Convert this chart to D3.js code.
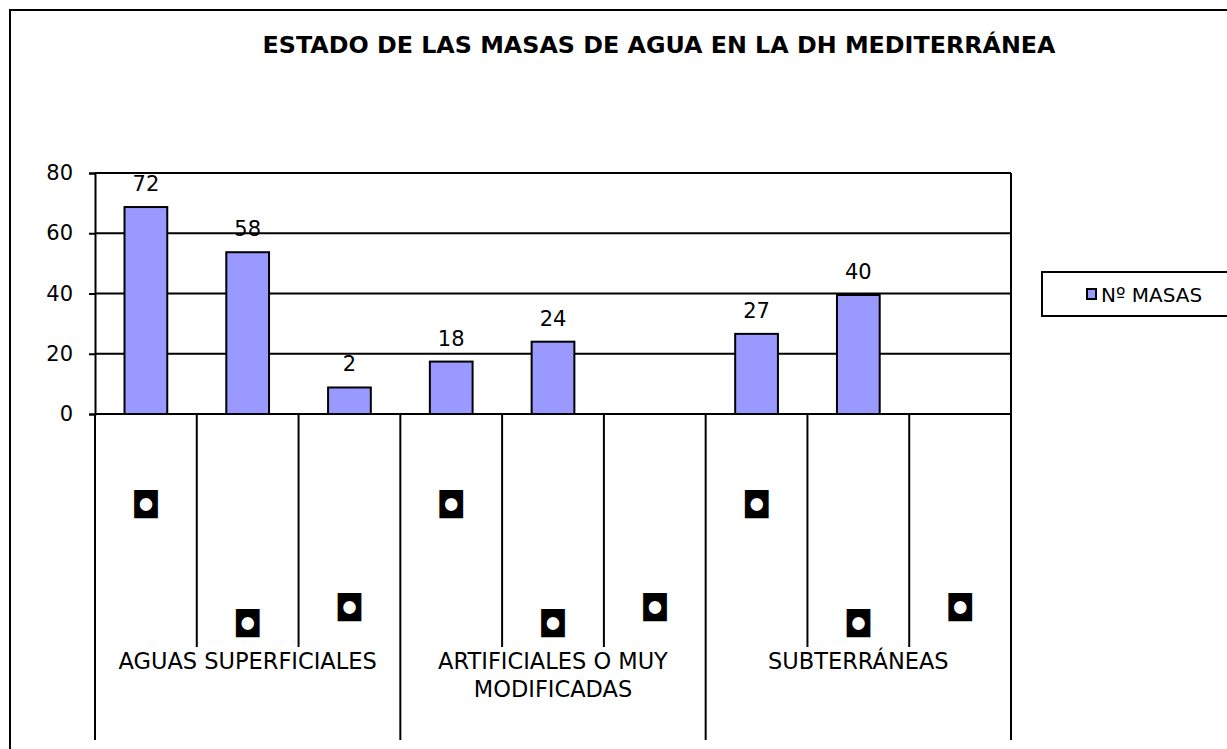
<!DOCTYPE html>
<html>
<head>
<meta charset="utf-8">
<script src="https://cdn.jsdelivr.net/npm/d3@7/dist/d3.min.js"></script>
<style>
  html, body { margin: 0; padding: 0; background: #fff; }
  svg { display: block; font-family: "DejaVu Sans", Verdana, sans-serif; }
</style>
</head>
<body>
<svg id="chart" width="1227" height="749"></svg>
<script>
// ---- data ----
const title = "ESTADO DE LAS MASAS DE AGUA EN LA DH MEDITERRÁNEA";
const groups = ["AGUAS SUPERFICIALES", "ARTIFICIALES O MUY MODIFICADAS", "SUBTERRÁNEAS"];
const groupLines = [["AGUAS SUPERFICIALES"], ["ARTIFICIALES O MUY", "MODIFICADAS"], ["SUBTERRÁNEAS"]];
const subLabels = ["◘", "◘", "◘"];           // unreadable (broken) sub-category glyphs
const categories = ["S1", "S2", "S3", "A1", "A2", "A3", "U1", "U2", "U3"];
const barValues = [68.7, 53.7, 8.8, 17.4, 24, 0, 26.6, 39.5, 0];   // heights as drawn
const dataLabels = ["72", "58", "2", "18", "24", "", "27", "40", ""];
const yTicks = [0, 20, 40, 60, 80];
const seriesName = "Nº MASAS";

// ---- layout ----
const svg = d3.select("#chart");
const plot = { left: 95, right: 1011, top: 173, bottom: 414 };

const x = d3.scaleBand().domain(categories).range([plot.left, plot.right]).paddingInner(0).paddingOuter(0);
const y = d3.scaleLinear().domain([0, 80]).range([plot.bottom, plot.top]);

// outer chart border
svg.append("rect").attr("x", 10).attr("y", 10).attr("width", 1240).attr("height", 760)
  .attr("fill", "#fff").attr("stroke", "#000").attr("stroke-width", 2);

// title
svg.append("text").attr("x", 659).attr("y", 53).attr("text-anchor", "middle")
  .attr("font-weight", "bold").attr("font-size", 22.5).attr("fill", "#000")
  .attr("textLength", 793).attr("lengthAdjust", "spacingAndGlyphs").text(title);

// gridlines
svg.append("g").selectAll("line").data(yTicks).join("line")
  .attr("x1", plot.left).attr("x2", plot.right)
  .attr("y1", d => y(d)).attr("y2", d => y(d))
  .attr("stroke", "#000").attr("stroke-width", 2);

// plot border (right side)
svg.append("line").attr("x1", plot.right).attr("x2", plot.right).attr("y1", plot.top).attr("y2", plot.bottom)
  .attr("stroke", "#000").attr("stroke-width", 2);

// y axis
const yAxis = d3.axisLeft(y).tickValues(yTicks).tickSize(6).tickPadding(16);
const gy = svg.append("g").attr("transform", `translate(${plot.left},0)`).call(yAxis);
gy.select(".domain").attr("stroke", "#000").attr("stroke-width", 2);
gy.selectAll(".tick line").attr("stroke", "#000").attr("stroke-width", 2);
gy.selectAll(".tick text").attr("font-size", 21).attr("fill", "#000")
  .attr("font-family", "DejaVu Sans, Verdana, sans-serif");

// bars
const barW = x.bandwidth() * 0.42;
svg.append("g").selectAll("rect").data(categories).join("rect")
  .attr("x", d => x(d) + (x.bandwidth() - barW) / 2)
  .attr("y", (d, i) => y(barValues[i]))
  .attr("width", barW)
  .attr("height", (d, i) => y(0) - y(barValues[i]))
  .attr("fill", "#9999FF").attr("stroke", "#000").attr("stroke-width", 2)
  .attr("display", (d, i) => barValues[i] > 0 ? null : "none");

// data labels
svg.append("g").selectAll("text").data(categories).join("text")
  .attr("x", d => x(d) + x.bandwidth() / 2)
  .attr("y", (d, i) => y(barValues[i]) - 16)
  .attr("text-anchor", "middle").attr("font-size", 21).attr("fill", "#000")
  .text((d, i) => dataLabels[i]);

// category axis dividers
const bounds = d3.range(categories.length + 1).map(i => plot.left + i * x.bandwidth());
svg.append("g").selectAll("line").data(bounds).join("line")
  .attr("x1", d => d).attr("x2", d => d)
  .attr("y1", plot.bottom)
  .attr("y2", (d, i) => (i % 3 === 0) ? 740 : 647)
  .attr("stroke", "#000").attr("stroke-width", 2);

// sub-category glyphs
const subY = [505, 624, 608];
svg.append("g").selectAll("text").data(categories).join("text")
  .attr("x", d => x(d) + x.bandwidth() / 2)
  .attr("y", (d, i) => subY[i % 3] + 13)
  .attr("text-anchor", "middle").attr("font-size", 36).attr("font-weight", "bold").attr("fill", "#000")
  .text((d, i) => subLabels[i % 3]);

// group labels
const groupW = x.bandwidth() * 3;
groups.forEach((g, gi) => {
  const cx = plot.left + groupW * gi + groupW / 2;
  const t = svg.append("text").attr("text-anchor", "middle").attr("font-size", 22.5).attr("fill", "#000");
  groupLines[gi].forEach((line, li) => {
    t.append("tspan").attr("x", cx).attr("y", 669 + li * 28).text(line);
  });
});

// legend
const lg = svg.append("g");
lg.append("rect").attr("x", 1042).attr("y", 272).attr("width", 200).attr("height", 44)
  .attr("fill", "#fff").attr("stroke", "#000").attr("stroke-width", 2);
lg.append("rect").attr("x", 1087).attr("y", 289).attr("width", 9).attr("height", 10)
  .attr("fill", "#9999FF").attr("stroke", "#000").attr("stroke-width", 2);
lg.append("text").attr("x", 1101).attr("y", 302).attr("font-size", 20).attr("fill", "#000").text(seriesName);
</script>
</body>
</html>
